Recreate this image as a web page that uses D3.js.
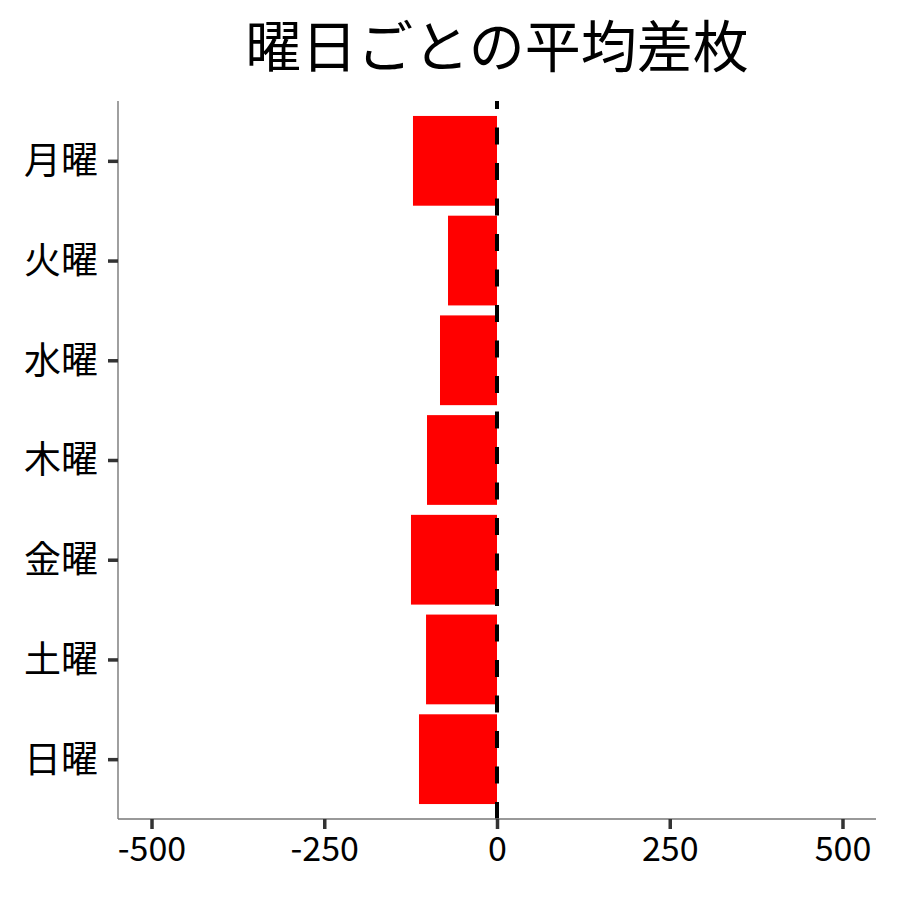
<!DOCTYPE html>
<html><head><meta charset="utf-8">
<script src="https://cdn.jsdelivr.net/npm/d3@7"></script>
<style>body{margin:0;background:#fff}svg{display:block}</style>
</head><body>
<script>
const days = ["月曜","火曜","水曜","木曜","金曜","土曜","日曜"];
const meanDiff = [-121.6,-70.9,-82.5,-101.3,-124.5,-102.7,-112.9];
const xTicks = [-500,-250,0,250,500];
const title = "曜日ごとの平均差枚";

const W=900,H=900;
const m={left:118,right:876,top:101,bottom:819};
const font='"Noto Sans CJK JP","Noto Sans",sans-serif';
const svg=d3.select("body").append("svg").attr("width",W).attr("height",H);
svg.append("rect").attr("width",W).attr("height",H).attr("fill","#fff");

const x=d3.scaleLinear().domain([-548.5,548.5]).range([m.left,m.right]);
// ggplot style: each category occupies 1 unit, 0.6 expansion each side, bar width 0.9
const step=(m.bottom-m.top)/7.2;
const yc=d3.scalePoint().domain(days).range([m.top+0.6*step,m.bottom-0.6*step]);
const barH=step*0.9;

const data=days.map((d,i)=>({day:d,v:meanDiff[i]}));
svg.append("g").selectAll("rect").data(data).join("rect")
  .attr("x",d=>x(Math.min(0,d.v)))
  .attr("width",d=>Math.abs(x(d.v)-x(0)))
  .attr("y",d=>yc(d.day)-barH/2)
  .attr("height",barH)
  .attr("fill","#ff0000");

// dashed zero line, drawn from bottom to top
svg.append("line").attr("x1",x(0)).attr("x2",x(0)).attr("y1",m.bottom).attr("y2",m.top)
  .attr("stroke","#000").attr("stroke-width",4).attr("stroke-dasharray","17,18.5");

// axes
const xAxis=svg.append("g").attr("transform",`translate(0,${m.bottom})`)
  .call(d3.axisBottom(x).tickValues(xTicks).tickSize(10).tickPadding(6).tickFormat(d=>String(d)));
const yAxis=svg.append("g").attr("transform",`translate(${m.left},0)`)
  .call(d3.axisLeft(yc).tickSize(10).tickPadding(10));
[xAxis,yAxis].forEach(a=>{
  a.select(".domain").attr("stroke","#777").attr("stroke-width",1.4);
  a.selectAll(".tick line").attr("stroke","#333").attr("stroke-width",3.5);
  a.selectAll(".tick text").attr("fill","#000").style("font-family",font).style("font-size","34px");
});
xAxis.select(".domain").attr("d",`M${m.left},0H${m.right}`);
yAxis.select(".domain").attr("d",`M0,${m.top}V${m.bottom}`);
xAxis.selectAll(".tick text").attr("dy","0.71em").attr("y",18);
yAxis.selectAll(".tick text").style("font-size","37px").attr("dy","0.35em");

svg.append("text").attr("x",(m.left+m.right)/2).attr("y",67).attr("text-anchor","middle")
  .style("font-family",font).style("font-size","56px").attr("fill","#000").text(title);
</script>
</body></html>
